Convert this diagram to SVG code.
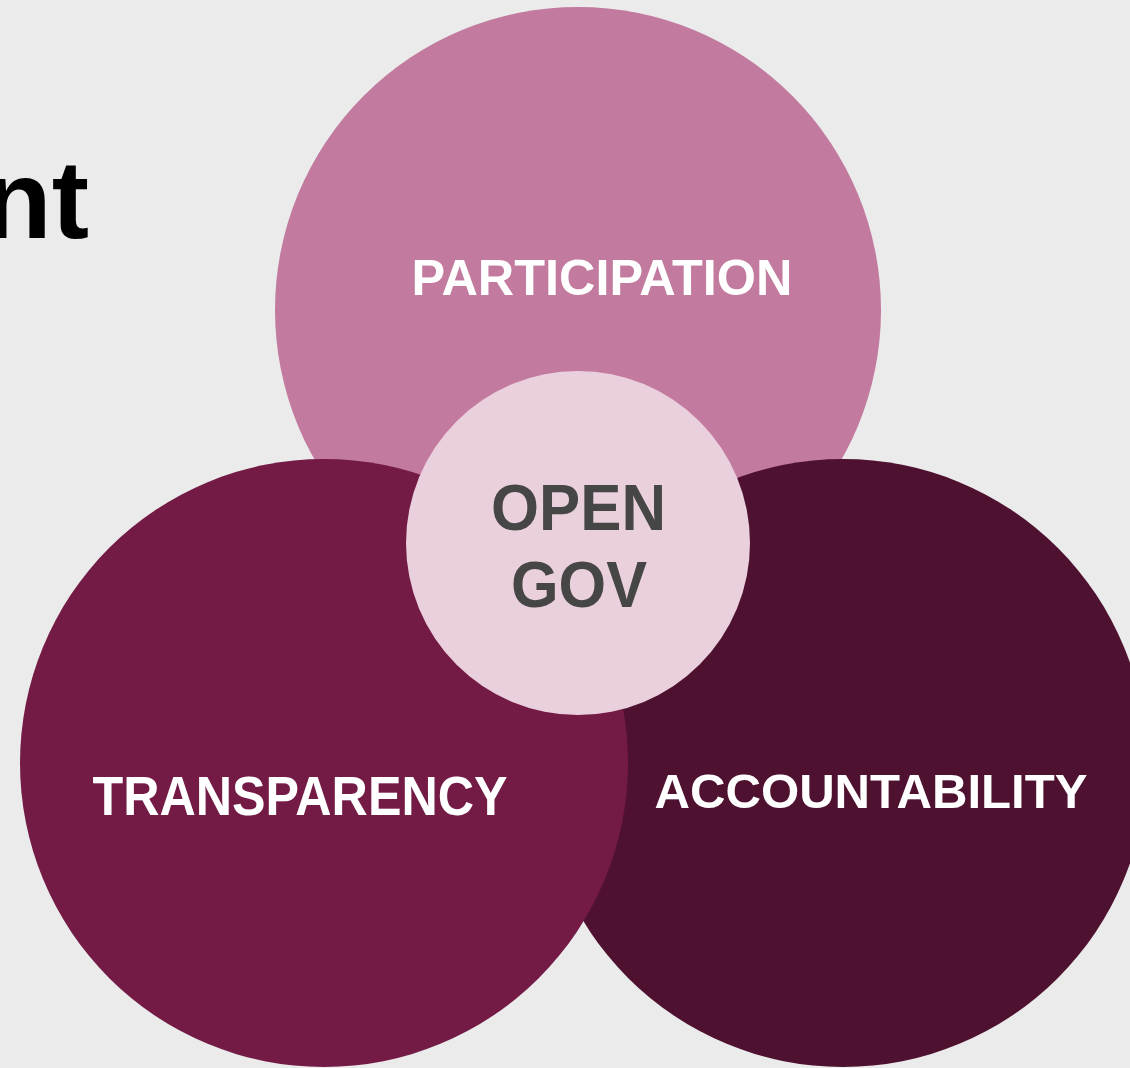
<svg xmlns="http://www.w3.org/2000/svg" width="1130" height="1068" viewBox="0 0 1130 1068">
<style>
text{font-family:"Liberation Sans",Arial,sans-serif;font-weight:bold;text-anchor:middle}
.w{fill:#ffffff}
.d{fill:#464646}
</style>
<rect x="0" y="0" width="1130" height="1068" fill="#ebebeb"/>
<text x="89" y="238" style="text-anchor:end;font-size:112px;fill:#000">nt</text>
<g id="participation">
<circle cx="578" cy="310" r="303" fill="#c27a9e"/>
<text class="w" x="602" y="295" font-size="50" textLength="381" lengthAdjust="spacingAndGlyphs">PARTICIPATION</text>
</g>
<g id="accountability">
<circle cx="843" cy="763" r="304" fill="#4e1130"/>
<text class="w" x="871" y="808" font-size="49" textLength="433" lengthAdjust="spacingAndGlyphs">ACCOUNTABILITY</text>
</g>
<g id="transparency">
<circle cx="324" cy="763" r="304" fill="#731a45"/>
<text class="w" x="300" y="815" font-size="56" textLength="415" lengthAdjust="spacingAndGlyphs">TRANSPARENCY</text>
</g>
<g id="opengov">
<circle cx="578" cy="543" r="172" fill="#ead0dc"/>
<text class="d" x="578.5" y="530" font-size="64" textLength="175" lengthAdjust="spacingAndGlyphs">OPEN</text>
<text class="d" x="579" y="607" font-size="64" textLength="136" lengthAdjust="spacingAndGlyphs">GOV</text>
</g>
<g id="connectors"></g>
</svg>
